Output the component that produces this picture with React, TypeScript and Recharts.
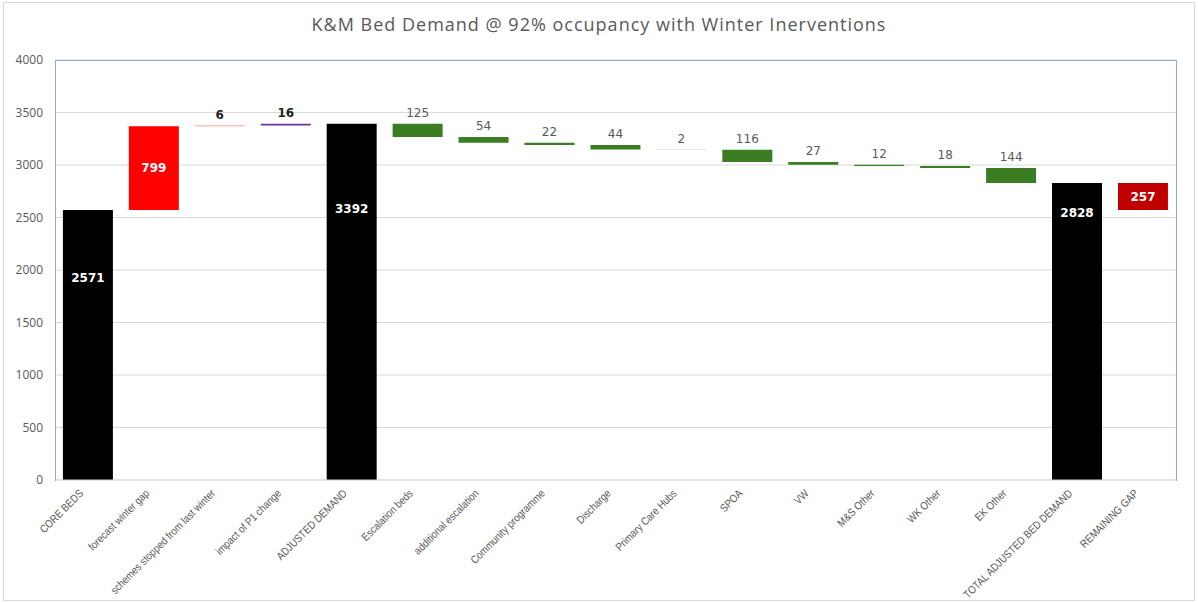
import React from "react";
import { BarChart, Bar, XAxis, YAxis, CartesianGrid, Cell, LabelList } from "recharts";

const categories = [
  "CORE BEDS",
  "forecast winter gap",
  "schemes stopped from last winter",
  "impact of P1 change",
  "ADJUSTED DEMAND",
  "Escalation beds",
  "additional escalation",
  "Community programme",
  "Discharge",
  "Primary Care Hubs",
  "SPOA",
  "VW",
  "M&S Other",
  "WK Other",
  "EK Other",
  "TOTAL ADJUSTED BED DEMAND",
  "REMAINING GAP",
];

// total = full bar from 0, up = increase, down = decrease, gap = bar between two totals
const kinds = [
  "total", "up", "up", "up", "total",
  "down", "down", "down", "down", "down", "down", "down", "down", "down", "down",
  "total", "gap",
];

const values = [2571, 799, 6, 16, 3392, 125, 54, 22, 44, 2, 116, 27, 12, 18, 144, 2828, 257];

const colors = [
  "#000000", "#ff0000", "#ff7c80", "#7030a0", "#000000",
  "#3a7d22", "#3a7d22", "#3a7d22", "#3a7d22", "#7fb56a", "#3a7d22",
  "#3a7d22", "#3a7d22", "#3a7d22", "#3a7d22", "#000000", "#c00000",
];

const yTicks = [0, 500, 1000, 1500, 2000, 2500, 3000, 3500, 4000];

const buildData = () => {
  let running = 0;
  return categories.map((name, i) => {
    const v = values[i];
    const kind = kinds[i];
    let base = 0;
    if (kind === "total") {
      base = 0;
      running = v;
    } else if (kind === "up") {
      base = running;
      running += v;
    } else if (kind === "down") {
      running -= v;
      base = running;
    } else {
      base = running - v;
    }
    return { name, base, value: v, kind, color: colors[i] };
  });
};

const data = buildData();

// where the white label sits down a total bar (excel put them oddly)
const totalLabelDrop: Record<number, number> = { 0: 0.25, 4: 0.24, 15: 0.1 };

const ValueLabel = (props: any) => {
  const { x, y, width, height, index } = props;
  const d = data[index];
  const cx = x + width / 2;
  const inside = d.kind === "total" || d.kind === "gap" || d.value > 500;
  if (inside) {
    const ly = d.kind === "total" ? y + height * (totalLabelDrop[index] ?? 0.5) : y + height / 2;
    return (
      <text
        x={cx}
        y={ly + 4}
        textAnchor="middle"
        fill="#ffffff"
        fontWeight="bold"
        fontSize={12}
        fontFamily="DejaVu Sans"
      >
        {d.value}
      </text>
    );
  }
  const strong = d.kind === "up";
  return (
    <text
      x={cx}
      y={y - 7}
      textAnchor="middle"
      fill={strong ? "#222222" : "#595959"}
      fontWeight={strong ? "bold" : "normal"}
      fontSize={12}
      fontFamily="DejaVu Sans"
    >
      {d.value}
    </text>
  );
};

const AngledTick = (props: any) => {
  const { x, y, payload } = props;
  return (
    <g transform={`translate(${x - 4},${y + 6})`}>
      <text
        textAnchor="end"
        transform="rotate(-45) scale(0.87,1)"
        fill="#595959"
        fontSize={11}
        fontFamily="Liberation Sans"
      >
        {payload.value}
      </text>
    </g>
  );
};

export default function App() {
  return (
    <div
      style={{
        position: "absolute",
        left: 0,
        top: 0,
        width: 1198,
        height: 603,
        background: "#ffffff",
      }}
    >
      <div
        style={{
          position: "absolute",
          left: 3,
          top: 2,
          width: 1190,
          height: 597,
          border: "1px solid #d9d9d9",
        }}
      />
      <div
        style={{
          position: "absolute",
          top: 12,
          left: 0,
          width: 1198,
          textAlign: "center",
          fontFamily: "Open Sans",
          fontSize: 18,
          letterSpacing: 1,
          color: "#595959",
        }}
      >
        K&amp;M Bed Demand @ 92% occupancy with Winter Inerventions
      </div>
      <div style={{ position: "absolute", left: 0, top: 0 }}>
        <BarChart
          width={1198}
          height={603}
          data={data}
          margin={{ top: 60, right: 22, left: 10, bottom: 0 }}
          barCategoryGap="12%"
        >
          <CartesianGrid vertical={false} stroke="#d9d9d9" />
          <XAxis
            dataKey="name"
            interval={0}
            height={123}
            tick={<AngledTick />}
            tickLine={false}
            axisLine={{ stroke: "#d9d9d9" }}
          />
          <YAxis
            width={45}
            domain={[0, 4000]}
            ticks={yTicks}
            tickLine={false}
            axisLine={false}
            tickSize={0}
            tickMargin={12}
            tick={{ fill: "#595959", fontSize: 12, fontFamily: "Open Sans" }}
          />
          <Bar dataKey="base" stackId="w" fill="transparent" isAnimationActive={false} />
          <Bar dataKey="value" stackId="w" isAnimationActive={false}>
            {data.map((d, i) => (
              <Cell key={i} fill={d.color} />
            ))}
            <LabelList dataKey="value" content={<ValueLabel />} />
          </Bar>
        </BarChart>
      </div>
      <div
        style={{
          position: "absolute",
          left: 55,
          top: 60,
          width: 1120,
          height: 420,
          borderLeft: "1px solid #8eaacb",
          borderTop: "1px solid #8eaacb",
          borderRight: "1px solid #8eaacb",
          pointerEvents: "none",
        }}
      />
    </div>
  );
}
